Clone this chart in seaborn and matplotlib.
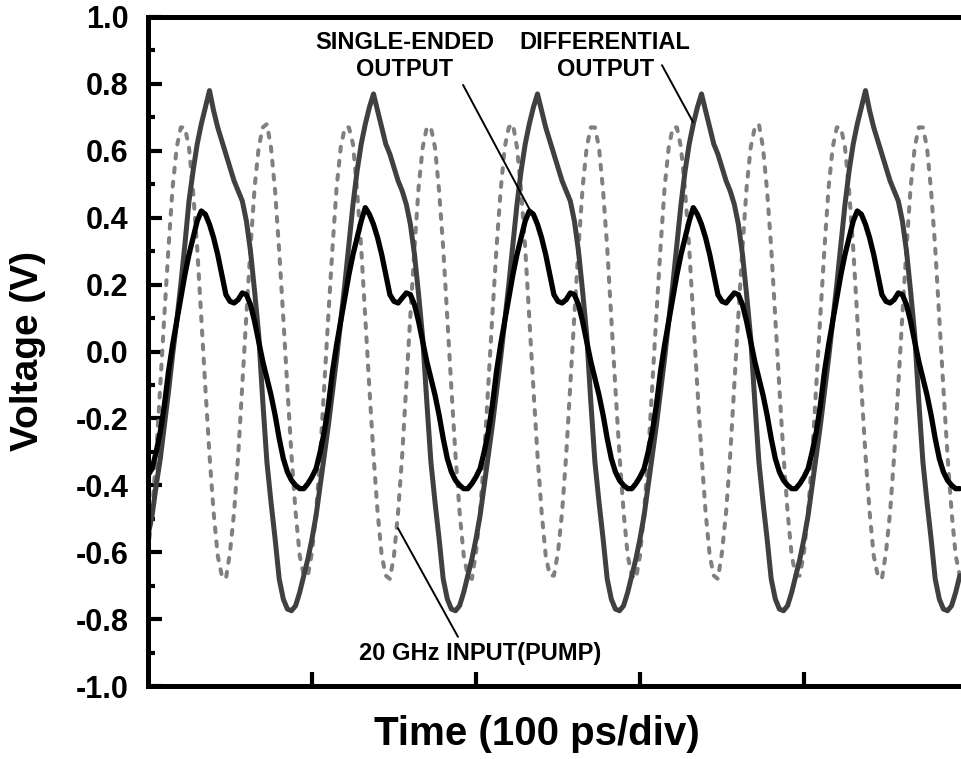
import numpy as np
import pandas as pd
import seaborn as sns
import matplotlib.pyplot as plt
from matplotlib.ticker import MultipleLocator

# scope samples, 2.5 ps apart (x axis is 100 ps/div)
time_ps = np.arange(0, 497.5, 2.5)

# 20 GHz pump input (dashed grey)
pump_input = [
    -0.60, -0.48, -0.31, -0.10, 0.11, 0.31, 0.49, 0.61, 0.67,
    0.67, 0.61, 0.48, 0.31, 0.10, -0.11, -0.31, -0.48, -0.61, -0.67, -0.68, -0.60, -0.48, -0.31, -0.10, 0.11, 0.31, 0.49, 0.61, 0.67,
    0.68, 0.61, 0.48, 0.30, 0.10, -0.11, -0.31, -0.48, -0.61, -0.67, -0.67, -0.60, -0.48, -0.31, -0.10, 0.11, 0.31, 0.49, 0.61, 0.67,
    0.67, 0.62, 0.48, 0.31, 0.10, -0.11, -0.31, -0.48, -0.61, -0.67, -0.68, -0.61, -0.48, -0.31, -0.10, 0.11, 0.31, 0.49, 0.61, 0.67,
    0.67, 0.61, 0.48, 0.31, 0.10, -0.11, -0.31, -0.48, -0.61, -0.67, -0.68, -0.60, -0.48, -0.31, -0.10, 0.11, 0.31, 0.48, 0.61, 0.67,
    0.68, 0.61, 0.48, 0.31, 0.10, -0.11, -0.31, -0.48, -0.61, -0.67, -0.67, -0.60, -0.48, -0.31, -0.10, 0.11, 0.31, 0.49, 0.61, 0.67,
    0.67, 0.61, 0.48, 0.31, 0.10, -0.11, -0.31, -0.48, -0.61, -0.67, -0.68, -0.61, -0.48, -0.31, -0.10, 0.11, 0.31, 0.49, 0.61, 0.67,
    0.67, 0.61, 0.48, 0.31, 0.10, -0.11, -0.31, -0.48, -0.61, -0.67, -0.68, -0.60, -0.48, -0.31, -0.10, 0.11, 0.31, 0.49, 0.61, 0.67,
    0.68, 0.61, 0.48, 0.31, 0.10, -0.11, -0.31, -0.48, -0.61, -0.67, -0.67, -0.60, -0.48, -0.31, -0.10, 0.11, 0.31, 0.49, 0.61, 0.67,
    0.67, 0.61, 0.48, 0.31, 0.10, -0.11, -0.31, -0.48, -0.61, -0.67, -0.68, -0.60, -0.48, -0.31, -0.10, 0.11, 0.31, 0.49, 0.61, 0.67,
    0.67, 0.61, 0.48, 0.31, 0.10, -0.11, -0.31, -0.48, -0.61, -0.67,
]

# 10 GHz differential output (dark grey)
diff_output = [
    -0.55, -0.49, -0.40, -0.32, -0.22, -0.12, -0.01, 0.09, 0.20, 0.32, 0.45, 0.54, 0.62, 0.68, 0.73,
    0.78, 0.72, 0.67, 0.63, 0.59, 0.55, 0.51, 0.48, 0.45, 0.39, 0.30, 0.18, 0.05, -0.15, -0.33, -0.45, -0.56, -0.68, -0.74, -0.77,
    -0.775, -0.76, -0.72, -0.67, -0.62, -0.56, -0.49, -0.40, -0.31, -0.22, -0.12, -0.02, 0.09, 0.20, 0.32, 0.44, 0.54, 0.62, 0.68, 0.73,
    0.77, 0.72, 0.67, 0.62, 0.59, 0.55, 0.51, 0.48, 0.44, 0.38, 0.29, 0.17, 0.04, -0.15, -0.33, -0.45, -0.56, -0.68, -0.74, -0.77,
    -0.775, -0.76, -0.72, -0.67, -0.62, -0.56, -0.49, -0.40, -0.31, -0.22, -0.12, -0.02, 0.09, 0.20, 0.32, 0.44, 0.54, 0.62, 0.68, 0.73,
    0.77, 0.72, 0.67, 0.63, 0.59, 0.55, 0.51, 0.48, 0.45, 0.39, 0.30, 0.18, 0.05, -0.15, -0.33, -0.45, -0.56, -0.68, -0.74, -0.77,
    -0.775, -0.76, -0.72, -0.67, -0.62, -0.56, -0.49, -0.40, -0.31, -0.22, -0.12, -0.02, 0.09, 0.20, 0.32, 0.44, 0.54, 0.62, 0.68, 0.73,
    0.77, 0.72, 0.67, 0.62, 0.59, 0.55, 0.51, 0.48, 0.44, 0.38, 0.29, 0.17, 0.04, -0.15, -0.33, -0.45, -0.56, -0.68, -0.74, -0.77,
    -0.775, -0.76, -0.72, -0.67, -0.62, -0.56, -0.49, -0.40, -0.31, -0.22, -0.12, -0.02, 0.09, 0.20, 0.32, 0.44, 0.54, 0.62, 0.68, 0.73,
    0.78, 0.72, 0.67, 0.63, 0.59, 0.55, 0.51, 0.48, 0.45, 0.39, 0.30, 0.18, 0.05, -0.15, -0.33, -0.45, -0.56, -0.68, -0.74, -0.77,
    -0.775, -0.76, -0.72, -0.67,
]

# single-ended output (black)
single_output = [
    -0.37, -0.35, -0.30, -0.24, -0.16, -0.06, 0.02, 0.09, 0.16, 0.23, 0.29, 0.34, 0.39,
    0.42, 0.41, 0.38, 0.34, 0.29, 0.23, 0.17, 0.15, 0.145, 0.155, 0.175, 0.17, 0.14, 0.09, 0.03, -0.03, -0.08, -0.13, -0.19, -0.26,
    -0.32, -0.36, -0.385, -0.40, -0.41, -0.41, -0.395, -0.375, -0.35, -0.30, -0.24, -0.16, -0.06, 0.02, 0.09, 0.16, 0.23, 0.29, 0.34, 0.39,
    0.43, 0.41, 0.38, 0.34, 0.29, 0.23, 0.17, 0.15, 0.145, 0.16, 0.175, 0.17, 0.14, 0.09, 0.03, -0.03, -0.08, -0.13, -0.19, -0.26,
    -0.32, -0.36, -0.385, -0.40, -0.41, -0.41, -0.395, -0.375, -0.35, -0.30, -0.24, -0.16, -0.06, 0.02, 0.09, 0.16, 0.23, 0.29, 0.34, 0.39,
    0.42, 0.41, 0.38, 0.34, 0.29, 0.23, 0.17, 0.15, 0.145, 0.155, 0.175, 0.17, 0.14, 0.09, 0.03, -0.03, -0.08, -0.13, -0.19, -0.26,
    -0.32, -0.36, -0.385, -0.40, -0.41, -0.41, -0.395, -0.375, -0.35, -0.30, -0.24, -0.16, -0.06, 0.02, 0.09, 0.16, 0.23, 0.29, 0.34, 0.39,
    0.43, 0.41, 0.38, 0.34, 0.29, 0.23, 0.17, 0.15, 0.145, 0.16, 0.175, 0.17, 0.14, 0.09, 0.03, -0.03, -0.08, -0.13, -0.19, -0.26,
    -0.32, -0.36, -0.385, -0.40, -0.41, -0.41, -0.395, -0.375, -0.35, -0.30, -0.24, -0.16, -0.06, 0.02, 0.09, 0.16, 0.23, 0.29, 0.34, 0.39,
    0.42, 0.41, 0.38, 0.34, 0.29, 0.23, 0.17, 0.15, 0.145, 0.155, 0.175, 0.17, 0.14, 0.09, 0.03, -0.03, -0.08, -0.13, -0.19, -0.26,
    -0.32, -0.36, -0.385, -0.40, -0.41, -0.41,
]

y_ticks = [-1.0, -0.8, -0.6, -0.4, -0.2, 0.0, 0.2, 0.4, 0.6, 0.8, 1.0]
y_labels = ["-1.0", "-0.8", "-0.6", "-0.4", "-0.2", "0.0", "0.2", "0.4", "0.6", "0.8", "1.0"]
x_ticks = [100, 200, 300, 400]

df = pd.DataFrame({"t": time_ps, "pump": pump_input,
                   "diff": diff_output, "single": single_output})

sns.set_theme(style="white")
plt.rcParams["font.family"] = ["Liberation Sans", "DejaVu Sans"]
plt.rcParams["font.weight"] = "bold"
plt.rcParams["text.color"] = "black"
plt.rcParams["xtick.color"] = "black"
plt.rcParams["ytick.color"] = "black"

fig = plt.figure(figsize=(9.61, 7.59), dpi=100)
ax = fig.add_axes([148 / 961, 73 / 759, 820 / 961, 669 / 759])

sns.lineplot(data=df, x="t", y="pump", ax=ax, color="#808080", lw=2.9,
             linestyle=(0, (1.2, 2.3)), dash_capstyle="round", sort=False, estimator=None)
sns.lineplot(data=df, x="t", y="diff", ax=ax, color="#404040", lw=3.6, sort=False, estimator=None)
sns.lineplot(data=df, x="t", y="single", ax=ax, color="black", lw=3.8, sort=False, estimator=None)

ax.set_xlim(0, 500)
ax.set_ylim(-1.0, 1.0)
ax.set_xticks(x_ticks)
ax.set_xticklabels([])
ax.set_yticks(y_ticks)
ax.set_yticklabels(y_labels, fontsize=22, fontweight="bold", color="black")
ax.yaxis.set_minor_locator(MultipleLocator(0.1))
ax.tick_params(axis="y", which="major", direction="in", length=10, width=3, pad=14, left=True)
ax.tick_params(axis="y", which="minor", direction="in", length=5, width=3, left=True)
ax.tick_params(axis="x", which="major", direction="in", length=10, width=3, bottom=True)
ax.set_xlabel("")
ax.set_ylabel("")
for side in ["left", "bottom", "top"]:
    ax.spines[side].set_linewidth(3.6)
    ax.spines[side].set_color("black")
ax.spines["right"].set_visible(False)

fig.text(537 / 961, 1 - 745 / 759, "Time (100 ps/div)", ha="center", va="baseline",
         fontsize=29, fontweight="bold", color="black")
fig.text(28 / 961, 1 - 351 / 759, "Voltage (V)", rotation=90, ha="center", va="center",
         fontsize=28, fontweight="bold", color="black")

# labels with leader lines
ax.text(156.7, 0.883, "SINGLE-ENDED\nOUTPUT", ha="center", va="center", fontsize=17,
        fontweight="bold", color="black")
ax.text(278.7, 0.883, "DIFFERENTIAL\nOUTPUT", ha="center", va="center", fontsize=17,
        fontweight="bold", color="black")
ax.text(202.4, -0.904, "20 GHz INPUT(PUMP)", ha="center", va="center", fontsize=17,
        fontweight="bold", color="black")
line_kw = dict(arrowstyle="-", color="black", lw=1.4, shrinkA=0, shrinkB=0)
ax.annotate("", xy=(232.9, 0.423), xytext=(192.1, 0.797), arrowprops=line_kw)
ax.annotate("", xy=(332.3, 0.686), xytext=(313.4, 0.856), arrowprops=line_kw)
ax.annotate("", xy=(189.0, -0.853), xytext=(152.4, -0.528), arrowprops=line_kw)

fig.savefig("out.png", dpi=100)
